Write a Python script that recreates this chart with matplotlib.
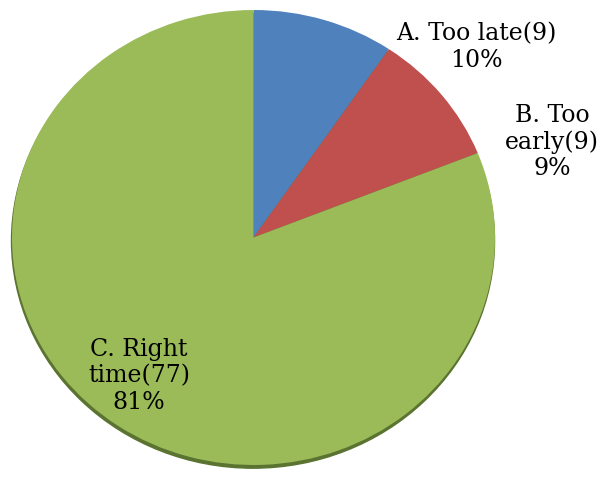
import matplotlib
matplotlib.use('Agg')
import matplotlib.pyplot as plt
from matplotlib.patches import Circle

labels = ['A. Too late(9)\n10%', 'B. Too\nearly(9)\n9%', 'C. Right\ntime(77)\n81%']
counts = [9, 9, 77]
colors = ['#4F81BD', '#C0504D', '#9BBB59']
# label centres in pixels (x, y from top)
label_pos = [(476, 47), (552, 142), (139, 376)]

W, H = 602, 483
fig = plt.figure(figsize=(W / 100, H / 100), dpi=100)

# pie occupies this pixel box: x 12..495, y 10..465
ax = fig.add_axes([12 / W, (H - 465) / H, 483 / W, 455 / H])
ax.axis('off')

# soft shadow under the pie
ax.add_patch(Circle((-0.002, -0.014), 1.0, color='#5a7330', zorder=0, clip_on=False))

wedges, _ = ax.pie(counts, colors=colors, startangle=90, counterclock=False,
                   radius=1.0, wedgeprops=dict(linewidth=0), frame=False)
for w in wedges:
    w.set_clip_on(False)
    w.set_zorder(1)
ax.set_xlim(-1, 1)
ax.set_ylim(-1, 1)
ax.set_aspect('auto')

for txt, (px, py) in zip(labels, label_pos):
    fig.text(px / W, 1 - py / H, txt, ha='center', va='center', multialignment='center',
             fontsize=17, family='DejaVu Serif', color='black', linespacing=1.2)

fig.savefig('out.png', dpi=100)
